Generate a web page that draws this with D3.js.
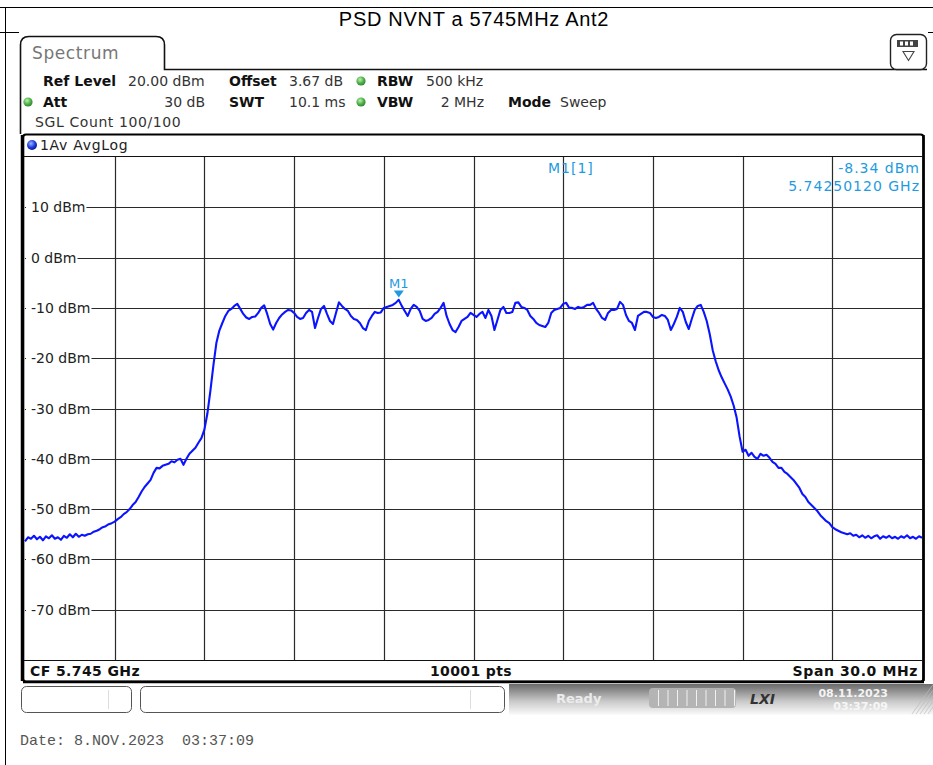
<!DOCTYPE html>
<html>
<head>
<meta charset="utf-8">
<script src="https://cdn.jsdelivr.net/npm/d3@7/dist/d3.min.js"></script>
<style>
  html, body { margin: 0; padding: 0; background: #fff; }
  svg { display: block; }
  text { font-family: "DejaVu Sans", Verdana, sans-serif; }
</style>
</head>
<body>
<svg id="chart" width="933" height="765"></svg>
<script>
// ---------------- data ----------------
const titleText = "PSD NVNT a 5745MHz Ant2";
const startMHz = 5730;
const stopMHz = 5760;
const stepMHz = 0.1;               // sweep grid of the trace values below
const yTicks = [10, 0, -10, -20, -30, -40, -50, -60, -70];
const yTickLabels = ["10 dBm", "0 dBm", "-10 dBm", "-20 dBm", "-30 dBm", "-40 dBm", "-50 dBm", "-60 dBm", "-70 dBm"];
const xGridMHz = [5733, 5736, 5739, 5742, 5745, 5748, 5751, 5754, 5757];
const refLevel = 20;
const bottomLevel = -80;
const levels = [
  -56.4,-55.6,-55.9,-55.3,-56.0,-55.5,-56.2,-55.4,-55.8,-55.2,
  -55.9,-55.6,-56.1,-55.3,-55.7,-55.0,-55.6,-54.9,-55.5,-55.1,
  -55.3,-55.0,-54.9,-54.5,-54.3,-54.0,-53.6,-53.4,-53.0,-52.8,
  -52.5,-52.0,-51.6,-51.0,-50.6,-50.0,-49.2,-48.6,-47.6,-46.5,
  -45.6,-44.9,-44.2,-42.8,-41.8,-41.9,-41.4,-41.2,-41.0,-40.5,
  -40.7,-40.2,-40.0,-41.2,-40.0,-39.0,-38.4,-37.8,-36.8,-35.9,
  -34.2,-31.0,-26.5,-21.5,-17.0,-14.5,-13.0,-11.6,-10.6,-10.2,
  -9.6,-9.2,-10.2,-11.2,-11.9,-12.2,-11.8,-11.7,-11.0,-10.0,
  -9.5,-11.2,-13.2,-14.3,-13.0,-12.0,-11.3,-10.8,-10.4,-10.5,
  -11.0,-11.8,-12.2,-12.0,-11.0,-10.4,-10.8,-14.0,-12.0,-10.2,
  -9.6,-11.2,-12.6,-13.2,-11.0,-8.9,-9.6,-10.2,-10.6,-11.6,
  -12.2,-12.4,-13.0,-14.0,-14.4,-12.6,-11.6,-10.8,-11.0,-10.9,
  -10.0,-9.8,-9.6,-9.4,-9.0,-8.4,-9.6,-10.6,-11.6,-10.2,
  -9.4,-9.8,-10.6,-12.2,-12.6,-12.4,-12.0,-11.2,-10.8,-10.0,
  -9.0,-11.6,-13.2,-14.4,-14.8,-13.8,-12.6,-12.2,-11.8,-11.0,
  -11.4,-11.8,-11.2,-10.8,-12.0,-10.4,-11.6,-14.4,-12.4,-10.4,
  -9.8,-11.0,-11.0,-10.8,-9.0,-8.9,-9.8,-10.0,-10.4,-11.6,
  -12.2,-13.0,-13.4,-13.6,-13.8,-13.0,-11.0,-10.4,-10.2,-10.0,
  -9.2,-9.0,-10.0,-10.0,-10.2,-9.8,-10.0,-9.8,-9.4,-9.4,
  -9.0,-10.2,-11.0,-12.0,-12.4,-11.0,-10.4,-10.4,-10.2,-8.8,
  -9.4,-11.4,-12.6,-13.0,-14.4,-11.6,-11.2,-10.8,-10.8,-11.0,
  -11.8,-12.0,-11.8,-11.4,-11.6,-12.4,-14.4,-13.2,-11.8,-10.0,
  -10.8,-12.8,-14.2,-12.2,-10.4,-9.6,-9.4,-10.8,-12.6,-15.2,
  -18.4,-20.6,-22.4,-23.8,-25.0,-26.2,-27.6,-29.4,-31.8,-35.6,
  -38.6,-38.2,-39.4,-38.8,-39.6,-40.0,-39.0,-39.4,-39.2,-39.8,
  -40.6,-41.0,-41.8,-41.8,-42.6,-43.0,-43.6,-44.2,-45.0,-45.8,
  -47.0,-47.6,-48.6,-49.2,-49.8,-50.4,-51.2,-51.8,-52.4,-52.8,
  -53.6,-54.0,-54.3,-54.6,-54.8,-55.0,-54.8,-55.3,-55.1,-55.6,
  -55.2,-55.7,-55.3,-55.8,-55.4,-55.2,-55.9,-55.4,-55.7,-55.3,
  -55.8,-55.5,-55.9,-55.4,-55.7,-55.2,-55.8,-55.5,-55.9,-55.4,-55.7
];
const markerName = "M1";
const markerFreqGHz = 5.74250120;
const markerLevel = -8.34;
const markerHeader = "M1[1]";
const markerLevelText = "-8.34 dBm";
const markerFreqText = "5.74250120 GHz";
const infoRow1 = [["Ref Level", true], ["20.00 dBm", false], ["Offset", true], ["3.67 dB", false], ["RBW", true], ["500 kHz", false]];
const infoRow2 = [["Att", true], ["30 dB", false], ["SWT", true], ["10.1 ms", false], ["VBW", true], ["2 MHz", false], ["Mode", true], ["Sweep", false]];
const infoRow3 = "SGL Count 100/100";
const traceLabel = "1Av AvgLog";
const statusLeft = "CF 5.745 GHz";
const statusMid = "10001 pts";
const statusRight = "Span 30.0 MHz";
const dateText = "Date: 8.NOV.2023  03:37:09";
const screenDate = "08.11.2023";
const screenTime = "03:37:09";

// ---------------- drawing ----------------
const svg = d3.select("#chart");
const defs = svg.append("defs");
const W = 933, H = 765;

const g1 = defs.append("radialGradient").attr("id", "greenDot").attr("cx", "40%").attr("cy", "35%").attr("r", "65%");
g1.append("stop").attr("offset", "0%").attr("stop-color", "#bff0b0");
g1.append("stop").attr("offset", "60%").attr("stop-color", "#4fb04a");
g1.append("stop").attr("offset", "100%").attr("stop-color", "#2f8a2e");
const g2 = defs.append("radialGradient").attr("id", "blueDot").attr("cx", "40%").attr("cy", "35%").attr("r", "65%");
g2.append("stop").attr("offset", "0%").attr("stop-color", "#9fb4ff");
g2.append("stop").attr("offset", "60%").attr("stop-color", "#1f3fe0");
g2.append("stop").attr("offset", "100%").attr("stop-color", "#0a1a90");
const g3 = defs.append("linearGradient").attr("id", "band").attr("x1", 0).attr("y1", 0).attr("x2", 0).attr("y2", 1);
g3.append("stop").attr("offset", "0%").attr("stop-color", "#6a6a6a");
g3.append("stop").attr("offset", "55%").attr("stop-color", "#c8c8c8");
g3.append("stop").attr("offset", "100%").attr("stop-color", "#fbfbfb");

svg.append("rect").attr("width", W).attr("height", H).attr("fill", "#fff");

// page table lines
svg.append("line").attr("x1", 0).attr("x2", W).attr("y1", 7.5).attr("y2", 7.5).attr("stroke", "#000");
svg.append("line").attr("x1", 5.5).attr("x2", 5.5).attr("y1", 7).attr("y2", H).attr("stroke", "#000");
svg.append("line").attr("x1", 0).attr("x2", 19).attr("y1", 32.5).attr("y2", 32.5).attr("stroke", "#000");
svg.append("line").attr("x1", 928).attr("x2", W).attr("y1", 32.5).attr("y2", 32.5).attr("stroke", "#000");
svg.append("text").attr("x", 474).attr("y", 26).attr("text-anchor", "middle")
  .style("font-family", "'Liberation Sans', Arial, sans-serif").style("font-size", "20px")
  .style("letter-spacing", "0.7px").attr("fill", "#000").text(titleText);

// spectrum tab
svg.append("path")
  .attr("d", "M20.5,134 L20.5,45 Q20.5,36.5 29,36.5 L156,36.5 Q164.5,36.5 164.5,45 L164.5,69.5 L927,69.5")
  .attr("fill", "none").attr("stroke", "#111").attr("stroke-width", 1.6);
svg.append("text").attr("x", 32).attr("y", 59).style("font-size", "17px").style("letter-spacing", "0.6px").attr("fill", "#777").text("Spectrum");
// icon box
svg.append("rect").attr("x", 890.5).attr("y", 34.5).attr("width", 36).attr("height", 35).attr("rx", 6)
  .attr("fill", "#fff").attr("stroke", "#222").attr("stroke-width", 1.4);
svg.append("rect").attr("x", 897).attr("y", 40).attr("width", 21).attr("height", 7).attr("fill", "#444");
[900, 905, 910].forEach(x => svg.append("rect").attr("x", x).attr("y", 41.5).attr("width", 3).attr("height", 4).attr("fill", "#fff"));
svg.append("path").attr("d", "M903,51.5 L914,51.5 L908.5,60.5 Z").attr("fill", "none").attr("stroke", "#444").attr("stroke-width", 1.1);

// info rows
function row(items, xs, y) {
  items.forEach((it, i) => {
    const t = svg.append("text").attr("x", xs[i][0]).attr("y", y).style("font-size", "14px")
      .style("font-weight", it[1] ? "bold" : "normal").attr("fill", it[1] ? "#111" : "#333").text(it[0]);
    if (xs[i][1]) t.attr("text-anchor", "end");
  });
}
row(infoRow1, [[43], [128], [229], [289], [377], [426]], 86);
row(infoRow2, [[43], [205, true], [229], [289], [377], [484, true], [508], [560]], 107);
svg.append("text").attr("x", 35).attr("y", 127).style("font-size", "14px").style("letter-spacing", "0.6px").attr("fill", "#333").text(infoRow3);
[[361, 81], [361, 102], [28, 102]].forEach(p =>
  svg.append("circle").attr("cx", p[0]).attr("cy", p[1]).attr("r", 4.6).attr("fill", "url(#greenDot)"));

// plot frame
const x = d3.scaleLinear().domain([startMHz, stopMHz]).range([25, 922]);
const y = d3.scaleLinear().domain([bottomLevel, refLevel]).range([660, 157]);

svg.append("rect").attr("x", 23).attr("y", 134.5).attr("width", 900.5).attr("height", 547).attr("rx", 3)
  .attr("fill", "#fff").attr("stroke", "#000").attr("stroke-width", 2.2);
svg.append("line").attr("x1", 22.5).attr("x2", 22.5).attr("y1", 135).attr("y2", 681).attr("stroke", "#000").attr("stroke-width", 3.5);
svg.append("line").attr("x1", 923.5).attr("x2", 923.5).attr("y1", 135).attr("y2", 681).attr("stroke", "#000").attr("stroke-width", 2.5);
svg.append("line").attr("x1", 23).attr("x2", 924).attr("y1", 682).attr("y2", 682).attr("stroke", "#000").attr("stroke-width", 2.5);
svg.append("line").attr("x1", 24).attr("x2", 922).attr("y1", 156.5).attr("y2", 156.5).attr("stroke", "#111").attr("stroke-width", 1.2);
svg.append("line").attr("x1", 24).attr("x2", 922).attr("y1", y(bottomLevel) + 0.5).attr("y2", y(bottomLevel) + 0.5).attr("stroke", "#111").attr("stroke-width", 1.2);
svg.append("circle").attr("cx", 32).attr("cy", 145).attr("r", 5).attr("fill", "url(#blueDot)");
svg.append("text").attr("x", 40).attr("y", 150).style("font-size", "14px").style("letter-spacing", "0.7px").attr("fill", "#222").text(traceLabel);

// grid
const grid = svg.append("g");
grid.selectAll("line.v").data(xGridMHz).join("line")
  .attr("x1", d => Math.round(x(d)) + 0.5).attr("x2", d => Math.round(x(d)) + 0.5)
  .attr("y1", 157).attr("y2", y(bottomLevel))
  .attr("stroke", "#2a2a2a").attr("stroke-width", 1.2);
grid.selectAll("line.h").data(yTicks).join("line")
  .attr("x1", 25).attr("x2", 922)
  .attr("y1", d => Math.round(y(d)) + 0.5).attr("y2", d => Math.round(y(d)) + 0.5)
  .attr("stroke", "#2a2a2a").attr("stroke-width", 1.2);
const lab = svg.append("g");
yTicks.forEach((v, i) => {
  const t = lab.append("text").attr("x", 31).attr("y", y(v) + 5).style("font-size", "14px").attr("fill", "#222").text(yTickLabels[i]);
  const bb = t.node().getBBox();
  lab.insert("rect", "text").attr("x", 26).attr("y", y(v) - 8).attr("width", bb.x + bb.width - 26 + 1).attr("height", 16).attr("fill", "#fff");
});

// trace
const line = d3.line().x((d, i) => x(startMHz + i * stepMHz)).y(d => y(d));
svg.append("path").datum(levels).attr("d", line).attr("fill", "none")
  .attr("stroke", "#0a14ff").attr("stroke-width", 2.1).attr("stroke-linejoin", "round");

// marker
const mc = "#1e9be0";
const mx = x(markerFreqGHz * 1000), my = y(markerLevel);
svg.append("path").attr("d", `M${mx - 5},${my - 9} L${mx + 5},${my - 9} L${mx},${my - 2} Z`).attr("fill", mc);
svg.append("text").attr("x", mx).attr("y", my - 12).attr("text-anchor", "middle").style("font-size", "13px").attr("fill", mc).text(markerName);
svg.append("text").attr("x", 548).attr("y", 173).style("font-size", "14px").style("letter-spacing", "1px").attr("fill", mc).text(markerHeader);
svg.append("text").attr("x", 920).attr("y", 173).attr("text-anchor", "end").style("font-size", "14px").style("letter-spacing", "1px").attr("fill", mc).text(markerLevelText);
svg.append("text").attr("x", 920).attr("y", 191).attr("text-anchor", "end").style("font-size", "14px").style("letter-spacing", "1px").attr("fill", mc).text(markerFreqText);

// status row
svg.append("text").attr("x", 30).attr("y", 676).style("font-size", "14px").style("font-weight", "bold").style("letter-spacing", "0.4px").attr("fill", "#111").text(statusLeft);
svg.append("text").attr("x", 471).attr("y", 676).attr("text-anchor", "middle").style("font-size", "14px").style("font-weight", "bold").style("letter-spacing", "0.4px").attr("fill", "#111").text(statusMid);
svg.append("text").attr("x", 918).attr("y", 676).attr("text-anchor", "end").style("font-size", "14px").style("font-weight", "bold").style("letter-spacing", "0.6px").attr("fill", "#111").text(statusRight);

// bottom bar
svg.append("rect").attr("x", 509).attr("y", 684).attr("width", W - 509).attr("height", 31).attr("fill", "url(#band)");
svg.append("rect").attr("x", 21.5).attr("y", 686.5).attr("width", 110).attr("height", 26).attr("rx", 5).attr("fill", "#fff").attr("stroke", "#555");
svg.append("line").attr("x1", 108.5).attr("x2", 108.5).attr("y1", 690).attr("y2", 709).attr("stroke", "#ddd");
svg.append("rect").attr("x", 140.5).attr("y", 686.5).attr("width", 364).attr("height", 26).attr("rx", 5).attr("fill", "#fff").attr("stroke", "#555");
svg.append("line").attr("x1", 470.5).attr("x2", 470.5).attr("y1", 690).attr("y2", 709).attr("stroke", "#ddd");
svg.append("text").attr("x", 556).attr("y", 703).style("font-size", "13px").style("font-weight", "bold").attr("fill", "#ececec").text("Ready");
svg.append("rect").attr("x", 649).attr("y", 688).attr("width", 87).attr("height", 20).attr("rx", 4).attr("fill", "#b4b4b4");
d3.range(9).forEach(i => svg.append("line").attr("x1", 658.5 + i * 9.5).attr("x2", 658.5 + i * 9.5).attr("y1", 690).attr("y2", 706).attr("stroke", "#f0f0f0"));
svg.append("text").attr("x", 750).attr("y", 704).style("font-size", "14px").style("font-weight", "bold").style("font-style", "italic").attr("fill", "#333").text("LXI");
svg.append("text").attr("x", 888).attr("y", 697).attr("text-anchor", "end").style("font-size", "11px").style("font-weight", "bold").attr("fill", "#f4f4f4").text(screenDate);
svg.append("text").attr("x", 888).attr("y", 710).attr("text-anchor", "end").style("font-size", "11px").style("font-weight", "bold").attr("fill", "#f6f6f6").text(screenTime);
[0, 4, 8, 12, 16].forEach(o => svg.append("line").attr("x1", 912 + o).attr("y1", 714).attr("x2", 933).attr("y2", 714 - (21 - o) * 1.4)
  .attr("stroke", "#bbb").attr("stroke-width", 0.7));

// date text
svg.append("text").attr("x", 20).attr("y", 745).attr("xml:space", "preserve").style("white-space", "pre")
  .style("font-family", "'Liberation Mono', 'Courier New', monospace")
  .style("font-size", "15px").attr("fill", "#555").text(dateText);
</script>
</body>
</html>
